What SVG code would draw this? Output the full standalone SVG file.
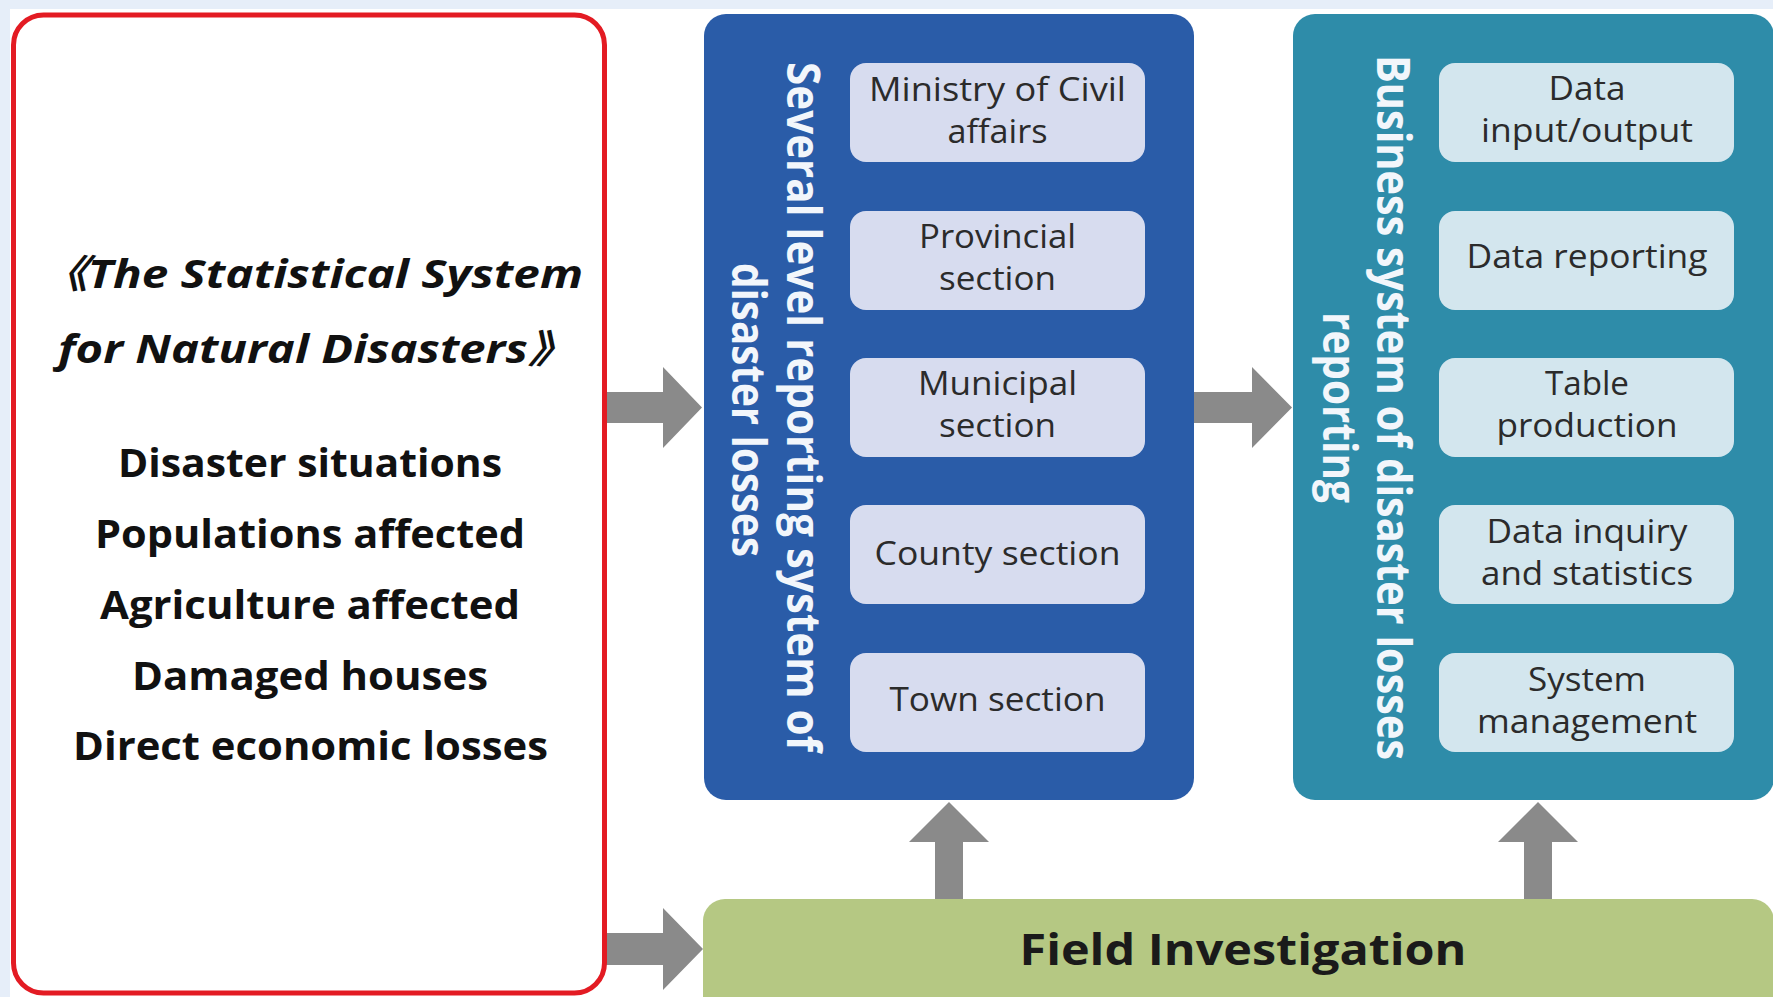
<svg xmlns="http://www.w3.org/2000/svg" width="1773" height="997" viewBox="0 0 1773 997">
<style>
.inner{font-family:"Open Sans","Noto Sans","Liberation Sans",sans-serif;font-size:32px;fill:#2b2b2b;text-anchor:middle}
.vt{font-family:"Open Sans","Noto Sans","Liberation Sans",sans-serif;font-size:46px;font-weight:bold;fill:#f2f6fb;text-anchor:middle}
.lst{font-family:"Open Sans","Noto Sans","Liberation Sans",sans-serif;font-size:40px;font-weight:bold;fill:#111;text-anchor:middle}
.ttl{font-family:"Open Sans","Noto Sans","Liberation Sans","Noto Sans CJK SC",sans-serif;font-size:39px;font-weight:bold;font-style:italic;fill:#111;text-anchor:middle}
.bbox{fill:#d7dcef}
.tbox{fill:#d3e6ee}
.arrow{fill:#8a8a8a}
</style>
<rect x="0" y="0" width="1773" height="997" fill="#e6eef9"/>
<rect x="10" y="9" width="1763" height="988" fill="#ffffff"/>

<g id="connectors">
<polygon class="arrow" points="606,392 663,392 663,367 702,407.5 663,448 663,423 606,423"/>
<polygon class="arrow" points="1194,392 1252,392 1252,367 1292,407.5 1252,448 1252,423 1194,423"/>
<polygon class="arrow" points="606,933 663,933 663,908 703,949 663,990 663,965 606,965"/>
<polygon class="arrow" points="935,900 935,842 909,842 949,802 989,842 963,842 963,900"/>
<polygon class="arrow" points="1524,900 1524,842 1498,842 1538,802 1578,842 1552,842 1552,900"/>
</g>

<g id="statistical-system">
<rect x="13.5" y="15" width="591" height="978" rx="30" fill="#ffffff" stroke="#e31b23" stroke-width="5"/>
<text class="ttl" x="311.5" y="288" textLength="543" lengthAdjust="spacingAndGlyphs">《The Statistical System</text>
<text class="ttl" x="316.5" y="363" textLength="517" lengthAdjust="spacingAndGlyphs">for Natural Disasters》</text>
<text class="lst" x="310" y="477" textLength="384" lengthAdjust="spacingAndGlyphs">Disaster situations</text>
<text class="lst" x="310" y="548" textLength="430" lengthAdjust="spacingAndGlyphs">Populations affected</text>
<text class="lst" x="310" y="619" textLength="420" lengthAdjust="spacingAndGlyphs">Agriculture affected</text>
<text class="lst" x="310" y="690" textLength="356" lengthAdjust="spacingAndGlyphs">Damaged houses</text>
<text class="lst" x="310.5" y="760" textLength="475" lengthAdjust="spacingAndGlyphs">Direct economic losses</text>
</g>

<g id="reporting-system">
<rect x="704" y="14" width="490" height="786" rx="22" fill="#2a5ca8"/>
<text class="vt" transform="translate(787,407) rotate(90)" textLength="690" lengthAdjust="spacingAndGlyphs">Several level reporting system of</text>
<text class="vt" transform="translate(732,410) rotate(90)" textLength="294" lengthAdjust="spacingAndGlyphs">disaster losses</text>
</g>

<g id="ministry">
<rect class="bbox" x="850" y="63" width="295" height="99" rx="16"/>
<text class="inner" x="997.5" y="101" textLength="257" lengthAdjust="spacingAndGlyphs">Ministry of Civil</text>
<text class="inner" x="997.5" y="143" textLength="100" lengthAdjust="spacingAndGlyphs">affairs</text>
</g>
<g id="provincial">
<rect class="bbox" x="850" y="211" width="295" height="99" rx="16"/>
<text class="inner" x="997.5" y="248" textLength="157" lengthAdjust="spacingAndGlyphs">Provincial</text>
<text class="inner" x="997.5" y="290" textLength="117" lengthAdjust="spacingAndGlyphs">section</text>
</g>
<g id="municipal">
<rect class="bbox" x="850" y="358" width="295" height="99" rx="16"/>
<text class="inner" x="997.5" y="395" textLength="159" lengthAdjust="spacingAndGlyphs">Municipal</text>
<text class="inner" x="997.5" y="437" textLength="117" lengthAdjust="spacingAndGlyphs">section</text>
</g>
<g id="county">
<rect class="bbox" x="850" y="505" width="295" height="99" rx="16"/>
<text class="inner" x="997.5" y="565" textLength="246" lengthAdjust="spacingAndGlyphs">County section</text>
</g>
<g id="town">
<rect class="bbox" x="850" y="653" width="295" height="99" rx="16"/>
<text class="inner" x="997.5" y="711" textLength="216" lengthAdjust="spacingAndGlyphs">Town section</text>
</g>

<g id="business-system">
<rect x="1293" y="14" width="481" height="786" rx="22" fill="#2e8ca9"/>
<text class="vt" transform="translate(1377,407.5) rotate(90)" textLength="705" lengthAdjust="spacingAndGlyphs">Business system of disaster losses</text>
<text class="vt" transform="translate(1323,407.5) rotate(90)" textLength="191" lengthAdjust="spacingAndGlyphs">reporting</text>
</g>

<g id="data-io">
<rect class="tbox" x="1439" y="63" width="295" height="99" rx="16"/>
<text class="inner" x="1587" y="100" textLength="77" lengthAdjust="spacingAndGlyphs">Data</text>
<text class="inner" x="1587" y="142" textLength="212" lengthAdjust="spacingAndGlyphs">input/output</text>
</g>
<g id="data-reporting">
<rect class="tbox" x="1439" y="211" width="295" height="99" rx="16"/>
<text class="inner" x="1587" y="268" textLength="241" lengthAdjust="spacingAndGlyphs">Data reporting</text>
</g>
<g id="table-production">
<rect class="tbox" x="1439" y="358" width="295" height="99" rx="16"/>
<text class="inner" x="1587" y="395" textLength="84" lengthAdjust="spacingAndGlyphs">Table</text>
<text class="inner" x="1587" y="437" textLength="181" lengthAdjust="spacingAndGlyphs">production</text>
</g>
<g id="data-inquiry">
<rect class="tbox" x="1439" y="505" width="295" height="99" rx="16"/>
<text class="inner" x="1587" y="543" textLength="201" lengthAdjust="spacingAndGlyphs">Data inquiry</text>
<text class="inner" x="1587" y="585" textLength="212" lengthAdjust="spacingAndGlyphs">and statistics</text>
</g>
<g id="system-management">
<rect class="tbox" x="1439" y="653" width="295" height="99" rx="16"/>
<text class="inner" x="1587" y="691" textLength="118" lengthAdjust="spacingAndGlyphs">System</text>
<text class="inner" x="1587" y="733" textLength="220" lengthAdjust="spacingAndGlyphs">management</text>
</g>

<g id="field-investigation">
<rect x="703" y="899" width="1071" height="120" rx="22" fill="#b5c883"/>
<text x="1243" y="965" font-family="Open Sans, Noto Sans, Liberation Sans, sans-serif" font-size="43" font-weight="bold" fill="#1a1a1a" text-anchor="middle" textLength="447" lengthAdjust="spacingAndGlyphs">Field Investigation</text>
</g>
</svg>
